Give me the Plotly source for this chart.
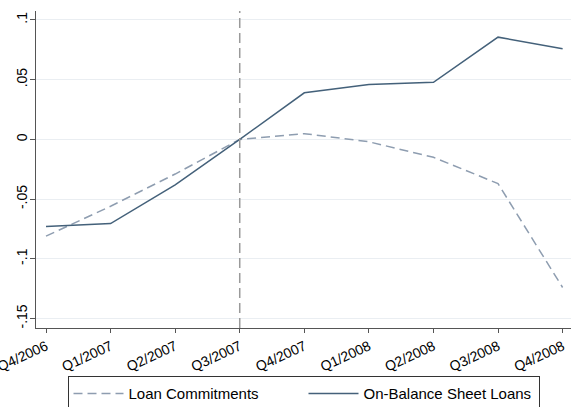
import plotly.graph_objects as go

quarters = ["Q4/2006", "Q1/2007", "Q2/2007", "Q3/2007", "Q4/2007",
            "Q1/2008", "Q2/2008", "Q3/2008", "Q4/2008"]
loan_commitments = [-0.081, -0.056, -0.029, 0.0, 0.0048, -0.002, -0.015, -0.037, -0.124]
on_balance_loans = [-0.073, -0.0705, -0.038, 0.0, 0.039, 0.046, 0.0478, 0.0856, 0.0758]
event_quarter = "Q3/2007"
y_tickvals = [-0.15, -0.1, -0.05, 0, 0.05, 0.1]
y_ticktext = ["-.15", "-.1", "-.05", "0", ".05", ".1"]

font = "Liberation Sans, Arial, sans-serif"

fig = go.Figure()
fig.add_trace(go.Scatter(x=quarters, y=loan_commitments, mode="lines",
                         name="Loan Commitments",
                         line=dict(color="#8e9db0", width=1.5, dash="9px,5px")))
fig.add_trace(go.Scatter(x=quarters, y=on_balance_loans, mode="lines",
                         name="On-Balance Sheet Loans",
                         line=dict(color="#44617a", width=1.5)))

fig.add_shape(type="line", xref="x", yref="paper",
              x0=quarters.index(event_quarter), x1=quarters.index(event_quarter),
              y0=0, y1=1,
              line=dict(color="#9a9a9a", width=1.5, dash="10px,5px"))

fig.update_layout(
    width=583, height=407,
    margin=dict(l=36, r=12, t=11, b=79, autoexpand=False),
    paper_bgcolor="white", plot_bgcolor="white",
    font=dict(family=font, size=14, color="black"),
    showlegend=True,
    legend=dict(orientation="h", x=0.5, xanchor="center", y=-0.152, yanchor="top",
                bordercolor="#333333", borderwidth=1,
                font=dict(size=15), entrywidth=170, itemwidth=50,
                tracegroupgap=0),
    xaxis=dict(type="category", range=[-0.155, 8.13], showgrid=False,
               showline=True, linecolor="#555555", linewidth=1,
               ticks="outside", ticklen=4, tickcolor="#555555",
               tickangle=-25, tickfont=dict(size=14), zeroline=False),
    yaxis=dict(range=[-0.1579, 0.1075], tickvals=y_tickvals, ticktext=y_ticktext,
               showgrid=True, gridcolor="#eaeef2", gridwidth=1,
               showline=True, linecolor="#555555", linewidth=1,
               ticks="outside", ticklen=5, tickcolor="#555555",
               tickangle=-90, tickfont=dict(size=14), zeroline=False,
               ticklabelstandoff=-3),
)

fig.write_html("out.html")
